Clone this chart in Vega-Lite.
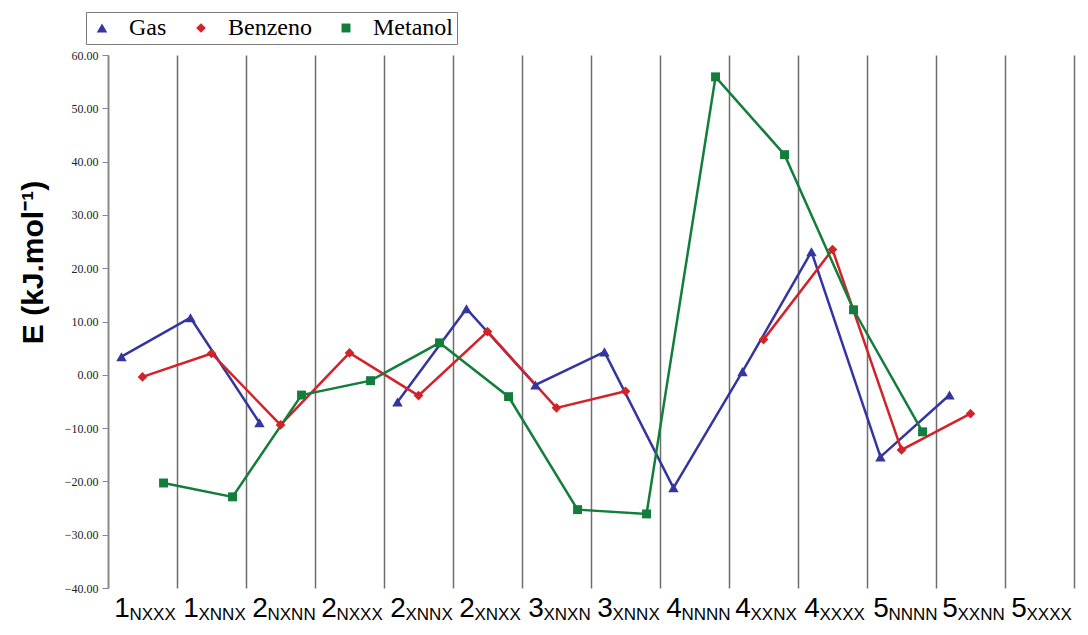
{
  "$schema": "https://vega.github.io/schema/vega-lite/v6.json",
  "autosize": {"type": "none"},
  "padding": {"left": 108, "top": 55, "right": 14, "bottom": 47},
  "width": 966,
  "height": 533,
  "background": "white",
  "config": {"view": {"stroke": null}},
  "resolve": {"legend": {"color": "independent", "shape": "independent", "size": "independent"}},
  "datasets": {
    "pts": [
      {"cat": "1NXXX", "idx": 1, "series": "Gas", "E": 3.4},
      {"cat": "1XNNX", "idx": 2, "series": "Gas", "E": 10.7},
      {"cat": "2NXNN", "idx": 3, "series": "Gas", "E": -9.0},
      {"cat": "2NXXX", "idx": 4, "series": "Gas", "E": null},
      {"cat": "2XNNX", "idx": 5, "series": "Gas", "E": -5.1},
      {"cat": "2XNXX", "idx": 6, "series": "Gas", "E": 12.4},
      {"cat": "3XNXN", "idx": 7, "series": "Gas", "E": -1.9},
      {"cat": "3XNNX", "idx": 8, "series": "Gas", "E": 4.3},
      {"cat": "4NNNN", "idx": 9, "series": "Gas", "E": -21.2},
      {"cat": "4XXNX", "idx": 10, "series": "Gas", "E": 0.6},
      {"cat": "4XXXX", "idx": 11, "series": "Gas", "E": 23.1},
      {"cat": "5NNNN", "idx": 12, "series": "Gas", "E": -15.4},
      {"cat": "5XXNN", "idx": 13, "series": "Gas", "E": -3.8},
      {"cat": "1NXXX", "idx": 1, "series": "Benzeno", "E": -0.4},
      {"cat": "1XNNX", "idx": 2, "series": "Benzeno", "E": 4.0},
      {"cat": "2NXNN", "idx": 3, "series": "Benzeno", "E": -9.4},
      {"cat": "2NXXX", "idx": 4, "series": "Benzeno", "E": 4.1},
      {"cat": "2XNNX", "idx": 5, "series": "Benzeno", "E": -3.9},
      {"cat": "2XNXX", "idx": 6, "series": "Benzeno", "E": 8.1},
      {"cat": "3XNXN", "idx": 7, "series": "Benzeno", "E": -6.2},
      {"cat": "3XNNX", "idx": 8, "series": "Benzeno", "E": -3.1},
      {"cat": "4NNNN", "idx": 9, "series": "Benzeno", "E": null},
      {"cat": "4XXNX", "idx": 10, "series": "Benzeno", "E": 6.6},
      {"cat": "4XXXX", "idx": 11, "series": "Benzeno", "E": 23.5},
      {"cat": "5NNNN", "idx": 12, "series": "Benzeno", "E": -14.1},
      {"cat": "5XXNN", "idx": 13, "series": "Benzeno", "E": -7.3},
      {"cat": "1NXXX", "idx": 1, "series": "Metanol", "E": -20.3},
      {"cat": "1XNNX", "idx": 2, "series": "Metanol", "E": -22.9},
      {"cat": "2NXNN", "idx": 3, "series": "Metanol", "E": -3.8},
      {"cat": "2NXXX", "idx": 4, "series": "Metanol", "E": -1.1},
      {"cat": "2XNNX", "idx": 5, "series": "Metanol", "E": 6.0},
      {"cat": "2XNXX", "idx": 6, "series": "Metanol", "E": -4.1},
      {"cat": "3XNXN", "idx": 7, "series": "Metanol", "E": -25.3},
      {"cat": "3XNNX", "idx": 8, "series": "Metanol", "E": -26.1},
      {"cat": "4NNNN", "idx": 9, "series": "Metanol", "E": 55.9},
      {"cat": "4XXNX", "idx": 10, "series": "Metanol", "E": 41.3},
      {"cat": "4XXXX", "idx": 11, "series": "Metanol", "E": 12.2},
      {"cat": "5NNNN", "idx": 12, "series": "Metanol", "E": -10.7},
      {"cat": "5XXNN", "idx": 13, "series": "Metanol", "E": null}
    ],
    "cats": [
      {"cat": "1NXXX", "sub": "NXXX"},
      {"cat": "1XNNX", "sub": "XNNX"},
      {"cat": "2NXNN", "sub": "NXNN"},
      {"cat": "2NXXX", "sub": "NXXX"},
      {"cat": "2XNNX", "sub": "XNNX"},
      {"cat": "2XNXX", "sub": "XNXX"},
      {"cat": "3XNXN", "sub": "XNXN"},
      {"cat": "3XNNX", "sub": "XNNX"},
      {"cat": "4NNNN", "sub": "NNNN"},
      {"cat": "4XXNX", "sub": "XXNX"},
      {"cat": "4XXXX", "sub": "XXXX"},
      {"cat": "5NNNN", "sub": "NNNN"},
      {"cat": "5XXNN", "sub": "XXNN"},
      {"cat": "5XXXX", "sub": "XXXX"}
    ]
  },
  "layer": [
    {
      "data": {"name": "pts"},
      "mark": {"type": "line", "strokeWidth": 2.5, "invalid": "break-paths-show-domains"},
      "encoding": {
        "x": {
          "field": "cat", "type": "nominal",
          "scale": {"domain": ["1NXXX","1XNNX","2NXNN","2NXXX","2XNNX","2XNXX","3XNXN","3XNNX","4NNNN","4XXNX","4XXXX","5NNNN","5XXNN","5XXXX"], "paddingInner": 0, "paddingOuter": 0},
          "axis": {
            "title": null, "orient": "bottom", "domain": false, "ticks": false, "tickSize": 0,
            "labelExpr": "substring(datum.label,0,1)", "labelFont": "Liberation Sans", "labelFontSize": 28,
            "labelColor": "black", "labelPadding": 6, "labelOffset": -21, "labelAngle": 0,
            "grid": true, "tickBand": "extent", "gridColor": "#6e6e6e", "gridWidth": 1.5
          }
        },
        "xOffset": {"field": "series", "type": "nominal", "scale": {"domain": ["Gas","Benzeno","Metanol"], "padding": 0.64}},
        "y": {
          "field": "E", "type": "quantitative",
          "scale": {"domain": [-40, 60], "nice": false, "zero": false},
          "axis": {
            "title": "E (kJ.mol⁻¹)", "values": [-40,-30,-20,-10,0,10,20,30,40,50,60], "format": ".2f",
            "labelFont": "Liberation Serif", "labelFontSize": 12, "labelColor": "#222222", "labelPadding": 4,
            "tickSize": 6, "tickColor": "#888888", "domainColor": "#888888", "domainWidth": 1.5, "grid": false,
            "titleFont": "Liberation Sans", "titleFontSize": 30, "titleFontWeight": "bold", "titleColor": "black",
            "titleX": -75, "titleY": 207, "titleAngle": -90, "titleAlign": "center", "titleBaseline": "middle"
          }
        },
        "color": {
          "field": "series", "type": "nominal",
          "scale": {"domain": ["Gas","Benzeno","Metanol"], "range": ["#35359f","#d2232a","#137d3c"]},
          "legend": null
        },
        "order": {"field": "idx", "type": "quantitative"}
      }
    },
    {
      "data": {"name": "pts"},
      "mark": {"type": "point", "filled": true, "opacity": 1},
      "encoding": {
        "x": {"field": "cat", "type": "nominal"},
        "xOffset": {"field": "series", "type": "nominal"},
        "y": {"field": "E", "type": "quantitative"},
        "color": {
          "field": "series", "type": "nominal",
          "legend": {
            "title": null, "orient": "none", "legendX": -22, "legendY": -43, "direction": "horizontal",
            "strokeColor": "#7a7a7a", "fillColor": "white", "padding": 4,
            "labelFont": "Liberation Serif", "labelFontSize": 24, "labelColor": "black", "labelOffset": 15,
            "columnPadding": 22
          }
        },
        "shape": {"field": "series", "type": "nominal", "scale": {"domain": ["Gas","Benzeno","Metanol"], "range": ["triangle-up","diamond","square"]}, "legend": null},
        "size": {"field": "series", "type": "nominal", "scale": {"domain": ["Gas","Benzeno","Metanol"], "range": [110, 80, 100]}, "legend": null}
      }
    },
    {
      "data": {"name": "cats"},
      "mark": {"type": "text", "align": "left", "baseline": "alphabetic", "dx": -13, "dy": 32, "font": "Liberation Sans", "fontSize": 17, "color": "black"},
      "encoding": {
        "x": {"field": "cat", "type": "nominal"},
        "y": {"datum": -40, "type": "quantitative"},
        "text": {"field": "sub", "type": "nominal"}
      }
    }
  ]
}
